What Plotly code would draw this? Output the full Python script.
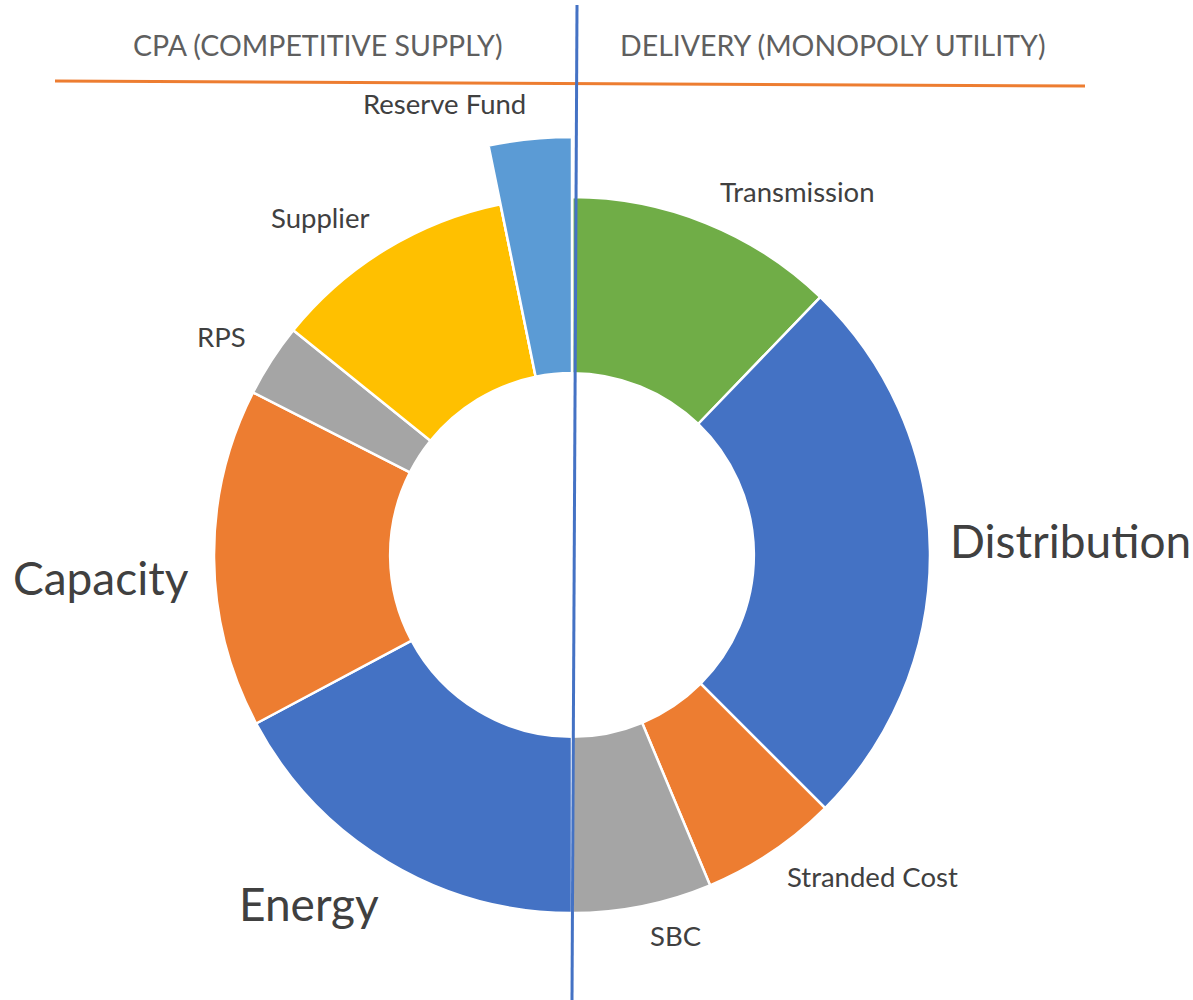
import plotly.graph_objects as go

W, H = 1193, 1000

labels = ["Transmission", "Distribution", "Stranded Cost", "SBC", "Energy",
          "Capacity", "RPS", "Supplier", "Reserve Fund"]
values = [12.2, 25.3, 6.2, 6.3, 17.2, 15.3, 3.3, 11.0, 3.2]
colors = ["#70AD47", "#4472C4", "#ED7D31", "#A5A5A5", "#4472C4",
          "#ED7D31", "#A5A5A5", "#FFC000", "#5B9BD5"]
headers = ["CPA (COMPETITIVE SUPPLY)", "DELIVERY (MONOPOLY UTILITY)"]
highlight = "Reserve Fund"

FONT = "Lato, 'Open Sans', sans-serif"


def px_dom(cx, cy, r):
    return dict(x=[(cx - r) / W, (cx + r) / W], y=[1 - (cy + r) / H, 1 - (cy - r) / H])


fig = go.Figure()
# main ring
fig.add_trace(go.Pie(
    labels=labels, values=values, sort=False, direction="clockwise", rotation=0,
    hole=0.508, marker=dict(colors=colors, line=dict(color="white", width=2.5)),
    textinfo="none", domain=px_dom(572, 555, 358), showlegend=False,
))
# extended highlighted slice
ov_colors = [c if l == highlight else "rgba(0,0,0,0)" for l, c in zip(labels, colors)]
ov_lines = ["white" if l == highlight else "rgba(0,0,0,0)" for l in labels]
fig.add_trace(go.Pie(
    labels=labels, values=values, sort=False, direction="clockwise", rotation=0,
    hole=182 / 418, marker=dict(colors=ov_colors, line=dict(color=ov_lines, width=2.5)),
    textinfo="none", domain=px_dom(572, 555, 418), showlegend=False, hoverinfo="skip",
))

label_pos = {
    "Reserve Fund": (444, 104, 27.5),
    "Transmission": (797, 191, 27.5),
    "Distribution": (1070, 540, 46),
    "Stranded Cost": (872, 876, 27.5),
    "SBC": (675, 935, 27.5),
    "Energy": (309, 903, 46),
    "Capacity": (101, 577, 46),
    "RPS": (221, 336, 27.5),
    "Supplier": (320, 218, 27.5),
}
ann = []
for l in labels:
    x, y, s = label_pos[l]
    ann.append(dict(x=x / W, y=1 - y / H, xref="paper", yref="paper", text=l,
                    showarrow=False, font=dict(size=s, color="#404040", family=FONT),
                    xanchor="center", yanchor="middle"))
for t, x in zip(headers, [318, 833]):
    ann.append(dict(x=x / W, y=1 - 45 / H, xref="paper", yref="paper", text=t,
                    showarrow=False, font=dict(size=28.5, color="#5f5f5f", family=FONT),
                    xanchor="center", yanchor="middle"))

shapes = [
    dict(type="line", xref="paper", yref="paper", x0=55 / W, y0=1 - 81 / H,
         x1=1085 / W, y1=1 - 86 / H, line=dict(color="#ED7D31", width=3)),
    dict(type="line", xref="paper", yref="paper", x0=577 / W, y0=1 - 5 / H,
         x1=572 / W, y1=0, line=dict(color="#4472C4", width=3)),
]

fig.update_layout(width=W, height=H, margin=dict(l=0, r=0, t=0, b=0),
                  paper_bgcolor="white", plot_bgcolor="white",
                  annotations=ann, shapes=shapes, font=dict(family=FONT))
fig.write_html("out.html")
